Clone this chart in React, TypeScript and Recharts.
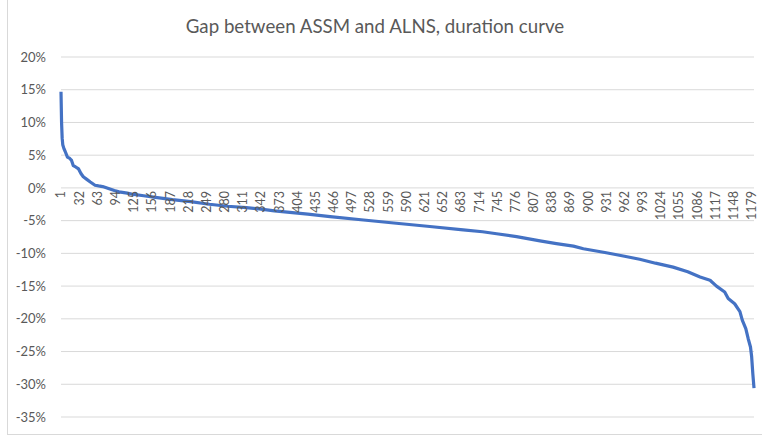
import React from "react";
import { LineChart, Line, XAxis, YAxis, CartesianGrid } from "recharts";

// rank of the hour (sorted), gap ASSM vs ALNS in %
const rank = [
  1, 2, 3, 4, 6, 8, 12, 16, 19, 22, 26, 31, 35, 39, 45, 51, 59, 65, 72, 82,
  92, 100, 114, 125, 142, 159, 175, 191, 222, 254, 285, 317, 339, 365, 422,
  460, 517, 573, 630, 687, 720, 744, 778, 818, 846, 875, 892, 931, 960, 988,
  1015, 1045, 1070, 1091, 1108, 1119, 1133, 1139, 1150, 1159, 1163, 1169,
  1173, 1177, 1179, 1181, 1183,
];
const gap = [
  14.7, 9.9, 7.6, 6.6, 6.0, 5.6, 4.7, 4.5, 4.2, 3.4, 3.2, 2.9, 2.2, 1.7, 1.3,
  0.9, 0.4, 0.3, 0.2, -0.1, -0.4, -0.6, -0.8, -1.0, -1.2, -1.4, -1.6, -1.8,
  -2.1, -2.5, -2.8, -3.0, -3.2, -3.5, -4.0, -4.4, -4.9, -5.4, -5.9, -6.4,
  -6.7, -7.0, -7.45, -8.1, -8.5, -8.9, -9.3, -9.9, -10.4, -10.9, -11.5,
  -12.1, -12.8, -13.6, -14.1, -15.0, -15.9, -16.9, -17.7, -18.9, -20.2,
  -21.5, -23.0, -24.3, -25.8, -28.4, -30.6,
];
const xTicks = [
  1, 32, 63, 94, 125, 156, 187, 218, 249, 280, 311, 342, 373, 404, 435, 466,
  497, 528, 559, 590, 621, 652, 683, 714, 745, 776, 807, 838, 869, 900, 931,
  962, 993, 1024, 1055, 1086, 1117, 1148, 1179,
];
const yTicks = [-35, -30, -25, -20, -15, -10, -5, 0, 5, 10, 15, 20];

const data = rank.map((r, i) => ({ rank: r, gap: gap[i] }));

const W = 762;
const H = 438;
const TOP = 57;
const BOTTOM = 21;
const X_AXIS_H = 10;
const Y_MIN = -35;
const Y_MAX = 20;
const zeroY = TOP + ((H - TOP - BOTTOM) * Y_MAX) / (Y_MAX - Y_MIN);
const FONT = "Lato, 'Open Sans', sans-serif";

const RankTick = (props: any) => {
  const { x, payload } = props;
  const y = zeroY + 3;
  return (
    <text
      x={x}
      y={y}
      transform={`rotate(-90 ${x} ${y})`}
      textAnchor="end"
      dominantBaseline="central"
      fontSize={12.5}
      fontFamily={FONT}
      fill="#595959"
    >
      {payload.value}
    </text>
  );
};

export default function App() {
  return (
    <div style={{ position: "absolute", left: 0, top: 0, width: W, height: H, overflow: "hidden", background: "#fff" }}>
      <div
        style={{
          position: "absolute",
          left: 7,
          top: -2,
          width: 800,
          height: 437,
          boxSizing: "border-box",
          border: "1px solid #d9d9d9",
        }}
      />
      <div
        style={{
          position: "absolute",
          left: 0,
          top: 13,
          width: 750,
          textAlign: "center",
          fontFamily: FONT,
          fontSize: 18.7,
          color: "#595959",
          lineHeight: "26px",
        }}
      >
        Gap between ASSM and ALNS, duration curve
      </div>
      <div style={{ position: "absolute", left: 0, top: 0 }}>
        <LineChart width={W} height={H} data={data} margin={{ top: TOP, right: 8, left: 0, bottom: BOTTOM - X_AXIS_H }}>
          <CartesianGrid vertical={false} stroke="#d9d9d9" />
          <XAxis
            dataKey="rank"
            type="number"
            domain={[1, 1183]}
            ticks={xTicks}
            interval={0}
            height={X_AXIS_H}
            axisLine={false}
            tickLine={false}
            tick={<RankTick />}
          />
          <YAxis
            type="number"
            domain={[Y_MIN, Y_MAX]}
            ticks={yTicks}
            width={61}
            axisLine={false}
            tickLine={false}
            tickSize={0}
            tickMargin={15}
            tickFormatter={(v: number) => `${v}%`}
            tick={{ fontSize: 13, fill: "#595959", fontFamily: FONT }}
          />
          <Line
            type="linear"
            dataKey="gap"
            stroke="#4472C4"
            strokeWidth={3.2}
            dot={false}
            strokeLinejoin="round"
            isAnimationActive={false}
          />
        </LineChart>
      </div>
    </div>
  );
}
